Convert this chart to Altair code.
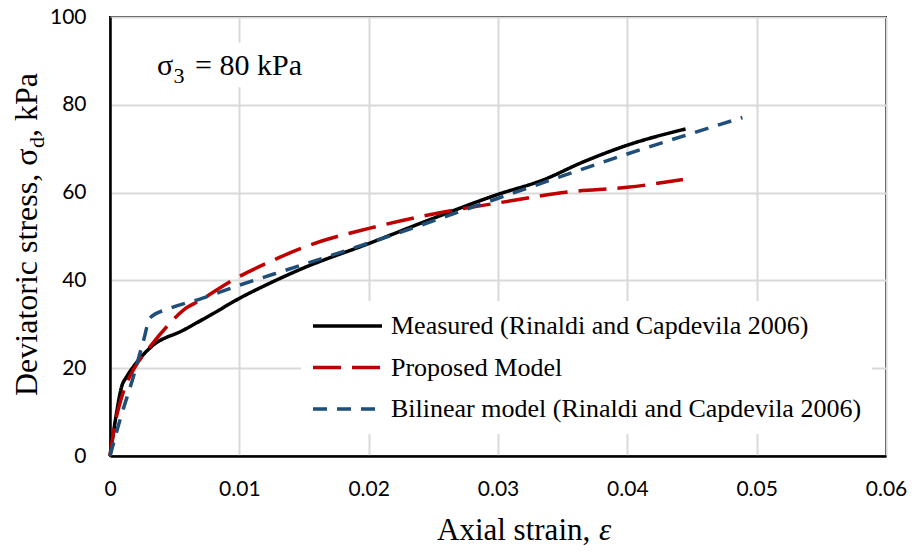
import altair as alt
import pandas as pd

# ---- data ----
measured_strain = [0, 0.0002, 0.0005, 0.0009, 0.0013, 0.0019, 0.0032, 0.0057, 0.008, 0.010,
                   0.0121, 0.0147, 0.0201, 0.0247, 0.0299, 0.0335, 0.0366, 0.040, 0.0445]
measured_stress = [0, 4.0, 9.7, 15.8, 18.1, 20.7, 24.9, 28.7, 32.5, 35.9,
                   39.0, 42.5, 48.5, 53.8, 59.5, 62.9, 67.0, 70.8, 74.5]

proposed_strain = [0, 0.00026, 0.001, 0.0018, 0.0031, 0.0044, 0.0057, 0.007, 0.0095, 0.0121,
                   0.0155, 0.0201, 0.0253, 0.0299, 0.0356, 0.040, 0.0443]
proposed_stress = [0, 5.2, 14.3, 19.6, 24.9, 29.5, 33.3, 35.5, 40.1, 43.9,
                   48.1, 51.9, 55.3, 57.6, 60.2, 61.2, 63.0]

bilinear_strain = [0, 0.0008, 0.0018, 0.0026, 0.0031, 0.0046, 0.007, 0.010, 0.0142,
                   0.0201, 0.0299, 0.040, 0.0489]
bilinear_stress = [0, 8.5, 18.0, 26.4, 31.5, 33.6, 35.8, 38.9, 42.9,
                   48.6, 58.6, 68.8, 77.1]

series_names = ["Measured (Rinaldi and Capdevila 2006)",
                "Proposed Model",
                "Bilinear model (Rinaldi and Capdevila 2006)"]
series_colors = ["#000000", "#C00000", "#1F4E79"]
series_dashes = [[1, 0], [28, 11], [14, 10]]

x_ticks = [0, 0.01, 0.02, 0.03, 0.04, 0.05, 0.06]
y_ticks = [0, 20, 40, 60, 80, 100]

annotation_parts = ["\u03c3", "3", "= 80 kPa"]
annotation_pos = {"strain": [0.00364], "stress": [86.8]}
annotation_box = {"strain": [0.002], "strain_end": [0.016], "stress": [84.0], "stress_end": [94.2]}

y_title_parts = ["Deviatoric stress, \u03c3", "d", ", kPa"]
x_title_parts = ["Axial strain,", "\u03b5"]

# ---- build table ----
rows = []
for name, xs, ys in zip(series_names,
                        [measured_strain, proposed_strain, bilinear_strain],
                        [measured_stress, proposed_stress, bilinear_stress]):
    for i, (a, b) in enumerate(zip(xs, ys)):
        rows.append({"series": name, "strain": a, "stress": b, "idx": i})
df = pd.DataFrame(rows)

SERIF = "Liberation Serif"

x_scale = alt.Scale(domain=[0, 0.06], nice=False, zero=False)
y_scale = alt.Scale(domain=[0, 100], nice=False)

def x_enc():
    return alt.X("strain:Q", scale=x_scale,
                 axis=alt.Axis(values=x_ticks, format=".2~f", title=None,
                               labelPadding=22, labelFlush=False))

def y_enc():
    return alt.Y("stress:Q", scale=y_scale,
                 axis=alt.Axis(values=y_ticks, title=None, labelPadding=24,
                               labelFlush=False))

legend = alt.Legend(orient="none", legendX=191, legendY=284, title=None,
                    fillColor="white", padding=10, symbolType="stroke",
                    symbolSize=4761, symbolStrokeWidth=3.5,
                    labelFont=SERIF, labelFontSize=26, labelColor="black",
                    labelLimit=1000, labelOffset=7, rowPadding=11.5,
                    clipHeight=30)

lines = alt.Chart(df).mark_line(interpolate="monotone", strokeWidth=3.5).encode(
    x=x_enc(),
    y=y_enc(),
    color=alt.Color("series:N", sort=series_names,
                    scale=alt.Scale(domain=series_names, range=series_colors),
                    legend=legend),
    strokeDash=alt.StrokeDash("series:N", sort=series_names,
                              scale=alt.Scale(domain=series_names, range=series_dashes),
                              legend=legend),
    order="idx:Q",
)

box = alt.Chart(pd.DataFrame(annotation_box)).mark_rect(color="white").encode(
    x=x_enc(), x2="strain_end:Q", y=y_enc(), y2="stress_end:Q"
)

ann_df = pd.DataFrame(annotation_pos)
ann_sigma = alt.Chart(ann_df).mark_text(
    text=annotation_parts[0], font=SERIF, fontSize=30, align="left",
    baseline="alphabetic", color="black").encode(x=x_enc(), y=y_enc())
ann_sub = alt.Chart(ann_df).mark_text(
    text=annotation_parts[1], font=SERIF, fontSize=22, align="left",
    baseline="alphabetic", color="black", dx=16.5, dy=8).encode(x=x_enc(), y=y_enc())
ann_rest = alt.Chart(ann_df).mark_text(
    text=annotation_parts[2], font=SERIF, fontSize=30, align="left",
    baseline="alphabetic", color="black", dx=38).encode(x=x_enc(), y=y_enc())

one = pd.DataFrame({"k": [0]})
yt1 = alt.Chart(one).mark_text(text=y_title_parts[0], font=SERIF, fontSize=32, angle=270,
                               align="left", baseline="alphabetic", color="black").encode(
    x=alt.value(-73), y=alt.value(379))
yt2 = alt.Chart(one).mark_text(text=y_title_parts[1], font=SERIF, fontSize=22, angle=270,
                               align="left", baseline="alphabetic", color="black").encode(
    x=alt.value(-66), y=alt.value(131))
yt3 = alt.Chart(one).mark_text(text=y_title_parts[2], font=SERIF, fontSize=32, angle=270,
                               align="left", baseline="alphabetic", color="black").encode(
    x=alt.value(-73), y=alt.value(120))

xt1 = alt.Chart(one).mark_text(text=x_title_parts[0], font=SERIF, fontSize=31,
                               align="left", baseline="alphabetic", color="black").encode(
    x=alt.value(327), y=alt.value(523))
xt2 = alt.Chart(one).mark_text(text=x_title_parts[1], font=SERIF, fontSize=31, fontStyle="italic",
                               align="left", baseline="alphabetic", color="black").encode(
    x=alt.value(489), y=alt.value(523))

chart = alt.layer(box, lines, ann_sigma, ann_sub, ann_rest, yt1, yt2, yt3, xt1, xt2).properties(
    width=776, height=439,
    autosize=alt.AutoSizeParams(type="none"),
    padding={"left": 110, "top": 17, "right": 28, "bottom": 96},
    background="white",
).configure_view(
    stroke="black", strokeWidth=2
).configure_axis(
    grid=True, gridColor="#D9D9D9", gridWidth=2,
    domainColor="black", domainWidth=2.5, ticks=False,
    labelFont="Lato", labelFontSize=21, labelColor="black",
)

chart.save("out.html", embed_options={"renderer": "svg", "actions": False})
